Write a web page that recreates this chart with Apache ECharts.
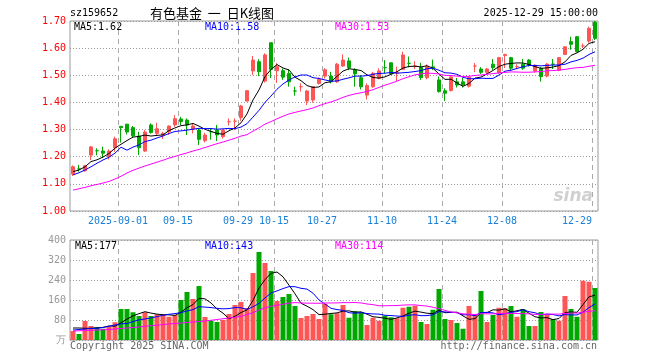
<!DOCTYPE html>
<html><head><meta charset="utf-8">
<script src="https://cdn.jsdelivr.net/npm/echarts@6/dist/echarts.min.js"></script>
<style>html,body{margin:0;padding:0;background:#fff}#c{width:660px;height:360px}</style>
</head><body><div id="c"></div>
<script>
const dates = ['2025-08-20','2025-08-21','2025-08-22','2025-08-25','2025-08-26','2025-08-27','2025-08-28','2025-08-29',
'2025-09-01','2025-09-02','2025-09-03','2025-09-04','2025-09-05','2025-09-08','2025-09-09','2025-09-10','2025-09-11','2025-09-12',
'2025-09-15','2025-09-16','2025-09-17','2025-09-18','2025-09-19','2025-09-22','2025-09-23','2025-09-24','2025-09-25','2025-09-26',
'2025-09-29','2025-09-30','2025-10-09','2025-10-10','2025-10-13','2025-10-14','2025-10-15','2025-10-16','2025-10-17',
'2025-10-20','2025-10-21','2025-10-22','2025-10-23','2025-10-24','2025-10-27','2025-10-28','2025-10-29','2025-10-30','2025-10-31',
'2025-11-03','2025-11-04','2025-11-05','2025-11-06','2025-11-07','2025-11-10','2025-11-11','2025-11-12','2025-11-13','2025-11-14',
'2025-11-17','2025-11-18','2025-11-19','2025-11-20','2025-11-21','2025-11-24','2025-11-25','2025-11-26','2025-11-27','2025-11-28',
'2025-12-01','2025-12-02','2025-12-03','2025-12-04','2025-12-05','2025-12-08','2025-12-09','2025-12-10','2025-12-11','2025-12-12',
'2025-12-15','2025-12-16','2025-12-17','2025-12-18','2025-12-19','2025-12-22','2025-12-23','2025-12-24','2025-12-25','2025-12-26','2025-12-29'];

const opens = [1.136,1.155,1.148,1.206,1.222,1.221,1.200,1.233,1.312,1.320,
1.307,1.276,1.221,1.317,1.286,1.280,1.292,1.317,1.339,1.335,
1.302,1.298,1.259,1.292,1.298,1.274,1.329,1.331,1.344,1.405,
1.516,1.550,1.479,1.620,1.517,1.517,1.507,1.442,1.458,1.405,
1.409,1.470,1.497,1.497,1.476,1.534,1.553,1.520,1.491,1.427,
1.458,1.489,1.528,1.546,1.510,1.522,1.544,1.534,1.529,1.491,
1.531,1.483,1.443,1.444,1.476,1.476,1.460,1.534,1.523,1.511,
1.541,1.510,1.573,1.565,1.532,1.541,1.556,1.516,1.525,1.497,
1.541,1.519,1.577,1.624,1.642,1.608,1.626,1.695];
const closes = [1.163,1.155,1.167,1.236,1.222,1.213,1.221,1.266,1.307,1.291,
1.277,1.233,1.291,1.289,1.303,1.286,1.313,1.340,1.330,1.317,
1.313,1.264,1.280,1.292,1.280,1.298,1.329,1.331,1.387,1.443,
1.556,1.513,1.575,1.522,1.532,1.493,1.476,1.442,1.458,1.442,
1.458,1.485,1.520,1.476,1.541,1.556,1.528,1.505,1.458,1.462,
1.507,1.516,1.528,1.505,1.510,1.575,1.544,1.534,1.491,1.532,
1.527,1.440,1.434,1.494,1.464,1.464,1.493,1.534,1.511,1.523,
1.528,1.565,1.577,1.526,1.532,1.526,1.538,1.537,1.495,1.541,
1.541,1.565,1.605,1.614,1.587,1.608,1.673,1.636];
const lows = [1.129,1.145,1.145,1.188,1.205,1.195,1.190,1.218,1.252,1.282,
1.270,1.206,1.218,1.285,1.278,1.265,1.280,1.310,1.317,1.280,
1.286,1.243,1.253,1.263,1.258,1.267,1.315,1.298,1.332,1.403,
1.501,1.497,1.473,1.490,1.472,1.483,1.458,1.425,1.440,1.390,
1.399,1.466,1.488,1.470,1.472,1.531,1.519,1.458,1.448,1.411,
1.454,1.485,1.506,1.501,1.479,1.520,1.529,1.523,1.483,1.485,
1.519,1.436,1.405,1.440,1.455,1.455,1.455,1.512,1.505,1.505,
1.520,1.505,1.527,1.520,1.522,1.520,1.532,1.510,1.477,1.492,
1.523,1.515,1.575,1.594,1.585,1.600,1.620,1.630];
const highs = [1.168,1.170,1.170,1.240,1.231,1.237,1.227,1.274,1.312,1.320,
1.313,1.292,1.298,1.323,1.325,1.292,1.315,1.353,1.347,1.341,
1.323,1.304,1.288,1.305,1.317,1.300,1.341,1.341,1.391,1.446,
1.571,1.559,1.581,1.620,1.545,1.525,1.522,1.458,1.470,1.446,
1.460,1.492,1.526,1.513,1.545,1.577,1.565,1.526,1.501,1.470,
1.513,1.526,1.556,1.546,1.532,1.587,1.569,1.552,1.546,1.540,
1.558,1.495,1.452,1.497,1.490,1.490,1.497,1.545,1.530,1.527,
1.560,1.568,1.579,1.568,1.541,1.560,1.560,1.540,1.530,1.545,
1.560,1.567,1.607,1.642,1.645,1.617,1.679,1.700];
// doji (open == close) drawn in green; other doji are red
const greenDoji = [1,4,23,37,52,56,80];

const volumes = [36,24,76,56,51,45,53,71,124,124,
111,96,111,96,103,100,93,100,160,192,
164,216,92,77,72,80,104,140,152,128,
268,352,308,276,156,172,184,136,88,96,
104,84,144,103,107,140,89,116,111,60,
89,77,97,91,87,129,133,137,72,64,
121,204,84,80,68,45,136,100,196,72,
100,129,127,136,93,124,56,56,112,100,
84,77,176,124,93,237,233,208];

// moving-average values for days before a full window exists
const ma5Head = [1.145,1.151,1.163,1.182];
const ma10Head = [1.133,1.141,1.151,1.163,1.176,1.188,1.198,1.213,1.235];
const ma30Head = [1.077,1.082,1.087,1.093,1.098,1.103,1.109,1.118,1.128,1.140,1.150,1.158,1.166,1.173,1.180,
1.187,1.195,1.201,1.208,1.214,1.221,1.227,1.234,1.241,1.248,1.254,1.261,1.268,1.276];
const vma5Head = [48,48,47,47];
const vma10Head = [40,42,44,46,47,50,55,60,65];
const vma30Head = [36,37,38,39,40,41,42,44,46,48,50,52,55,57,59,62,64,66,68,70,72,74,76,79,82,85,88,91,94];

const tickDates = ['2025-09-01','2025-09-15','2025-09-29','2025-10-15','2025-10-27','2025-11-10','2025-11-24','2025-12-08','2025-12-29'];
const tickLabels = ['2025-09-01','09-15','09-29','10-15','10-27','11-10','11-24','12-08','12-29'];
const priceTicks = [1.00,1.10,1.20,1.30,1.40,1.50,1.60,1.70];
const volTicks = [0,80,160,240,320,400];

const headerCode = 'sz159652';
const headerTitle = '有色基金  一  日K线图';
const headerTime = '2025-12-29 15:00:00';
const priceLegend = ['MA5:1.62','MA10:1.58','MA30:1.53'];
const volLegend = ['MA5:177','MA10:143','MA30:114'];

const RED = '#ff5555', GREEN = '#00a800';
const MONO = '"DejaVu Sans Mono", "Liberation Mono", monospace';

function ma(arr, n, head) {
  return arr.map((v, i) => {
    if (i < n - 1) return head[i];
    let s = 0; for (let j = i - n + 1; j <= i; j++) s += arr[j];
    return +(s / n).toFixed(4);
  });
}
function isUp(i) {
  if (opens[i] === closes[i]) return greenDoji.indexOf(i) < 0;
  return closes[i] > opens[i];
}

const candleData = dates.map((d, i) => {
  const item = { value: [opens[i], closes[i], lows[i], highs[i]] };
  if (opens[i] === closes[i]) {
    const c = isUp(i) ? RED : GREEN;
    item.itemStyle = { color: c, color0: c, borderColor: c, borderColor0: c, borderColorDoji: c };
  }
  return item;
});
const volData = volumes.map((v, i) => ({ value: v, itemStyle: { color: isUp(i) ? RED : GREEN } }));

const tickIdx = tickDates.map(d => dates.indexOf(d));
const boundaries = dates.concat(['end']);
const showTick = (i) => tickIdx.indexOf(i) >= 0;
const lastIdx = tickIdx[tickIdx.length - 1];

const chart = echarts.init(document.getElementById('c'));
chart.setOption({
  animation: false,
  backgroundColor: '#fff',
  grid: [
    { left: 70, top: 21, width: 528, height: 190, show: true, borderColor: '#999', borderWidth: 1 },
    { left: 70, top: 240, width: 528, height: 100, show: true, borderColor: '#999', borderWidth: 1 }
  ],
  xAxis: [
    { type: 'category', gridIndex: 0, data: dates, boundaryGap: true, show: false },
    { type: 'category', gridIndex: 0, data: boundaries, boundaryGap: false, position: 'bottom',
      axisLine: { show: false }, axisTick: { show: false },
      axisLabel: { interval: (i) => showTick(i), margin: 5, color: '#1a80d8', fontFamily: MONO, fontSize: 10,
        formatter: (v, i) => { const k = tickIdx.indexOf(i); if (k < 0) return ''; return i === lastIdx ? '{e|' + tickLabels[k] + '}' : tickLabels[k]; },
        rich: { e: { padding: [0, 30, 0, 0], color: '#1a80d8', fontFamily: MONO, fontSize: 10 } } },
      splitLine: { show: true, interval: (i) => showTick(i), lineStyle: { color: '#aaa', type: [5, 4], width: 1 } } },
    { type: 'category', gridIndex: 1, data: dates, boundaryGap: true, show: false },
    { type: 'category', gridIndex: 1, data: boundaries, boundaryGap: false, position: 'bottom',
      axisLine: { show: false }, axisTick: { show: false }, axisLabel: { show: false },
      splitLine: { show: true, interval: (i) => showTick(i), lineStyle: { color: '#aaa', type: [5, 4], width: 1 } } }
  ],
  yAxis: [
    { type: 'value', gridIndex: 0, min: priceTicks[0], max: priceTicks[priceTicks.length - 1], interval: 0.1,
      axisLine: { show: false }, axisTick: { show: false },
      axisLabel: { color: '#f00', fontFamily: MONO, fontSize: 10, margin: 4, formatter: v => v.toFixed(2) },
      splitLine: { lineStyle: { color: '#999', type: [1, 2] } } },
    { type: 'value', gridIndex: 1, min: volTicks[0], max: volTicks[volTicks.length - 1], interval: 80,
      axisLine: { show: false }, axisTick: { show: false },
      axisLabel: { color: '#999', fontFamily: MONO, fontSize: 10, margin: 4, formatter: v => v === 0 ? '万' : String(v) },
      splitLine: { lineStyle: { color: '#999', type: [1, 2] } } }
  ],
  series: [
    { type: 'candlestick', xAxisIndex: 0, yAxisIndex: 0, barWidth: 4, data: candleData,
      itemStyle: { color: RED, color0: GREEN, borderColor: RED, borderColor0: GREEN, borderWidth: 1 } },
    { type: 'line', xAxisIndex: 0, yAxisIndex: 0, data: ma(closes, 5, ma5Head), symbol: 'none', lineStyle: { color: '#000', width: 1 } },
    { type: 'line', xAxisIndex: 0, yAxisIndex: 0, data: ma(closes, 10, ma10Head), symbol: 'none', lineStyle: { color: '#0000ff', width: 1 } },
    { type: 'line', xAxisIndex: 0, yAxisIndex: 0, data: ma(closes, 30, ma30Head), symbol: 'none', lineStyle: { color: '#ff00ff', width: 1 } },
    { type: 'bar', xAxisIndex: 2, yAxisIndex: 1, barWidth: 5, data: volData },
    { type: 'line', xAxisIndex: 2, yAxisIndex: 1, data: ma(volumes, 5, vma5Head), symbol: 'none', lineStyle: { color: '#000', width: 1 } },
    { type: 'line', xAxisIndex: 2, yAxisIndex: 1, data: ma(volumes, 10, vma10Head), symbol: 'none', lineStyle: { color: '#0000ff', width: 1 } },
    { type: 'line', xAxisIndex: 2, yAxisIndex: 1, data: ma(volumes, 30, vma30Head), symbol: 'none', lineStyle: { color: '#ff00ff', width: 1 } }
  ],
  graphic: [
    { type: 'text', x: 70, y: 13, style: { text: headerCode, font: '10px ' + MONO, fill: '#000', textVerticalAlign: 'middle' } },
    { type: 'text', x: 150, y: 13, style: { text: headerTitle, font: '13px "Noto Sans CJK SC"', fill: '#000', textVerticalAlign: 'middle' } },
    { type: 'text', x: 598, y: 13, style: { text: headerTime, font: '10px ' + MONO, fill: '#000', textAlign: 'right', textVerticalAlign: 'middle' } },
    { type: 'text', x: 74, y: 27, style: { text: priceLegend[0], font: '10px ' + MONO, fill: '#000', textVerticalAlign: 'middle' } },
    { type: 'text', x: 205, y: 27, style: { text: priceLegend[1], font: '10px ' + MONO, fill: '#0000ff', textVerticalAlign: 'middle' } },
    { type: 'text', x: 335, y: 27, style: { text: priceLegend[2], font: '10px ' + MONO, fill: '#ff00ff', textVerticalAlign: 'middle' } },
    { type: 'text', x: 75, y: 246, style: { text: volLegend[0], font: '10px ' + MONO, fill: '#000', textVerticalAlign: 'middle' } },
    { type: 'text', x: 205, y: 246, style: { text: volLegend[1], font: '10px ' + MONO, fill: '#0000ff', textVerticalAlign: 'middle' } },
    { type: 'text', x: 335, y: 246, style: { text: volLegend[2], font: '10px ' + MONO, fill: '#ff00ff', textVerticalAlign: 'middle' } },
    { type: 'text', x: 70, y: 346, style: { text: 'Copyright 2025 SINA.COM', font: '10px ' + MONO, fill: '#666', textVerticalAlign: 'middle' } },
    { type: 'text', x: 597, y: 346, style: { text: 'http://finance.sina.com.cn', font: '10px ' + MONO, fill: '#666', textAlign: 'right', textVerticalAlign: 'middle' } },
    { type: 'text', x: 593, y: 197, z: -1, style: { text: 'sina', font: 'italic bold 17px "DejaVu Sans"', fill: 'rgba(170,170,170,0.55)', textAlign: 'right', textVerticalAlign: 'middle' } }
  ]
});
</script></body></html>
